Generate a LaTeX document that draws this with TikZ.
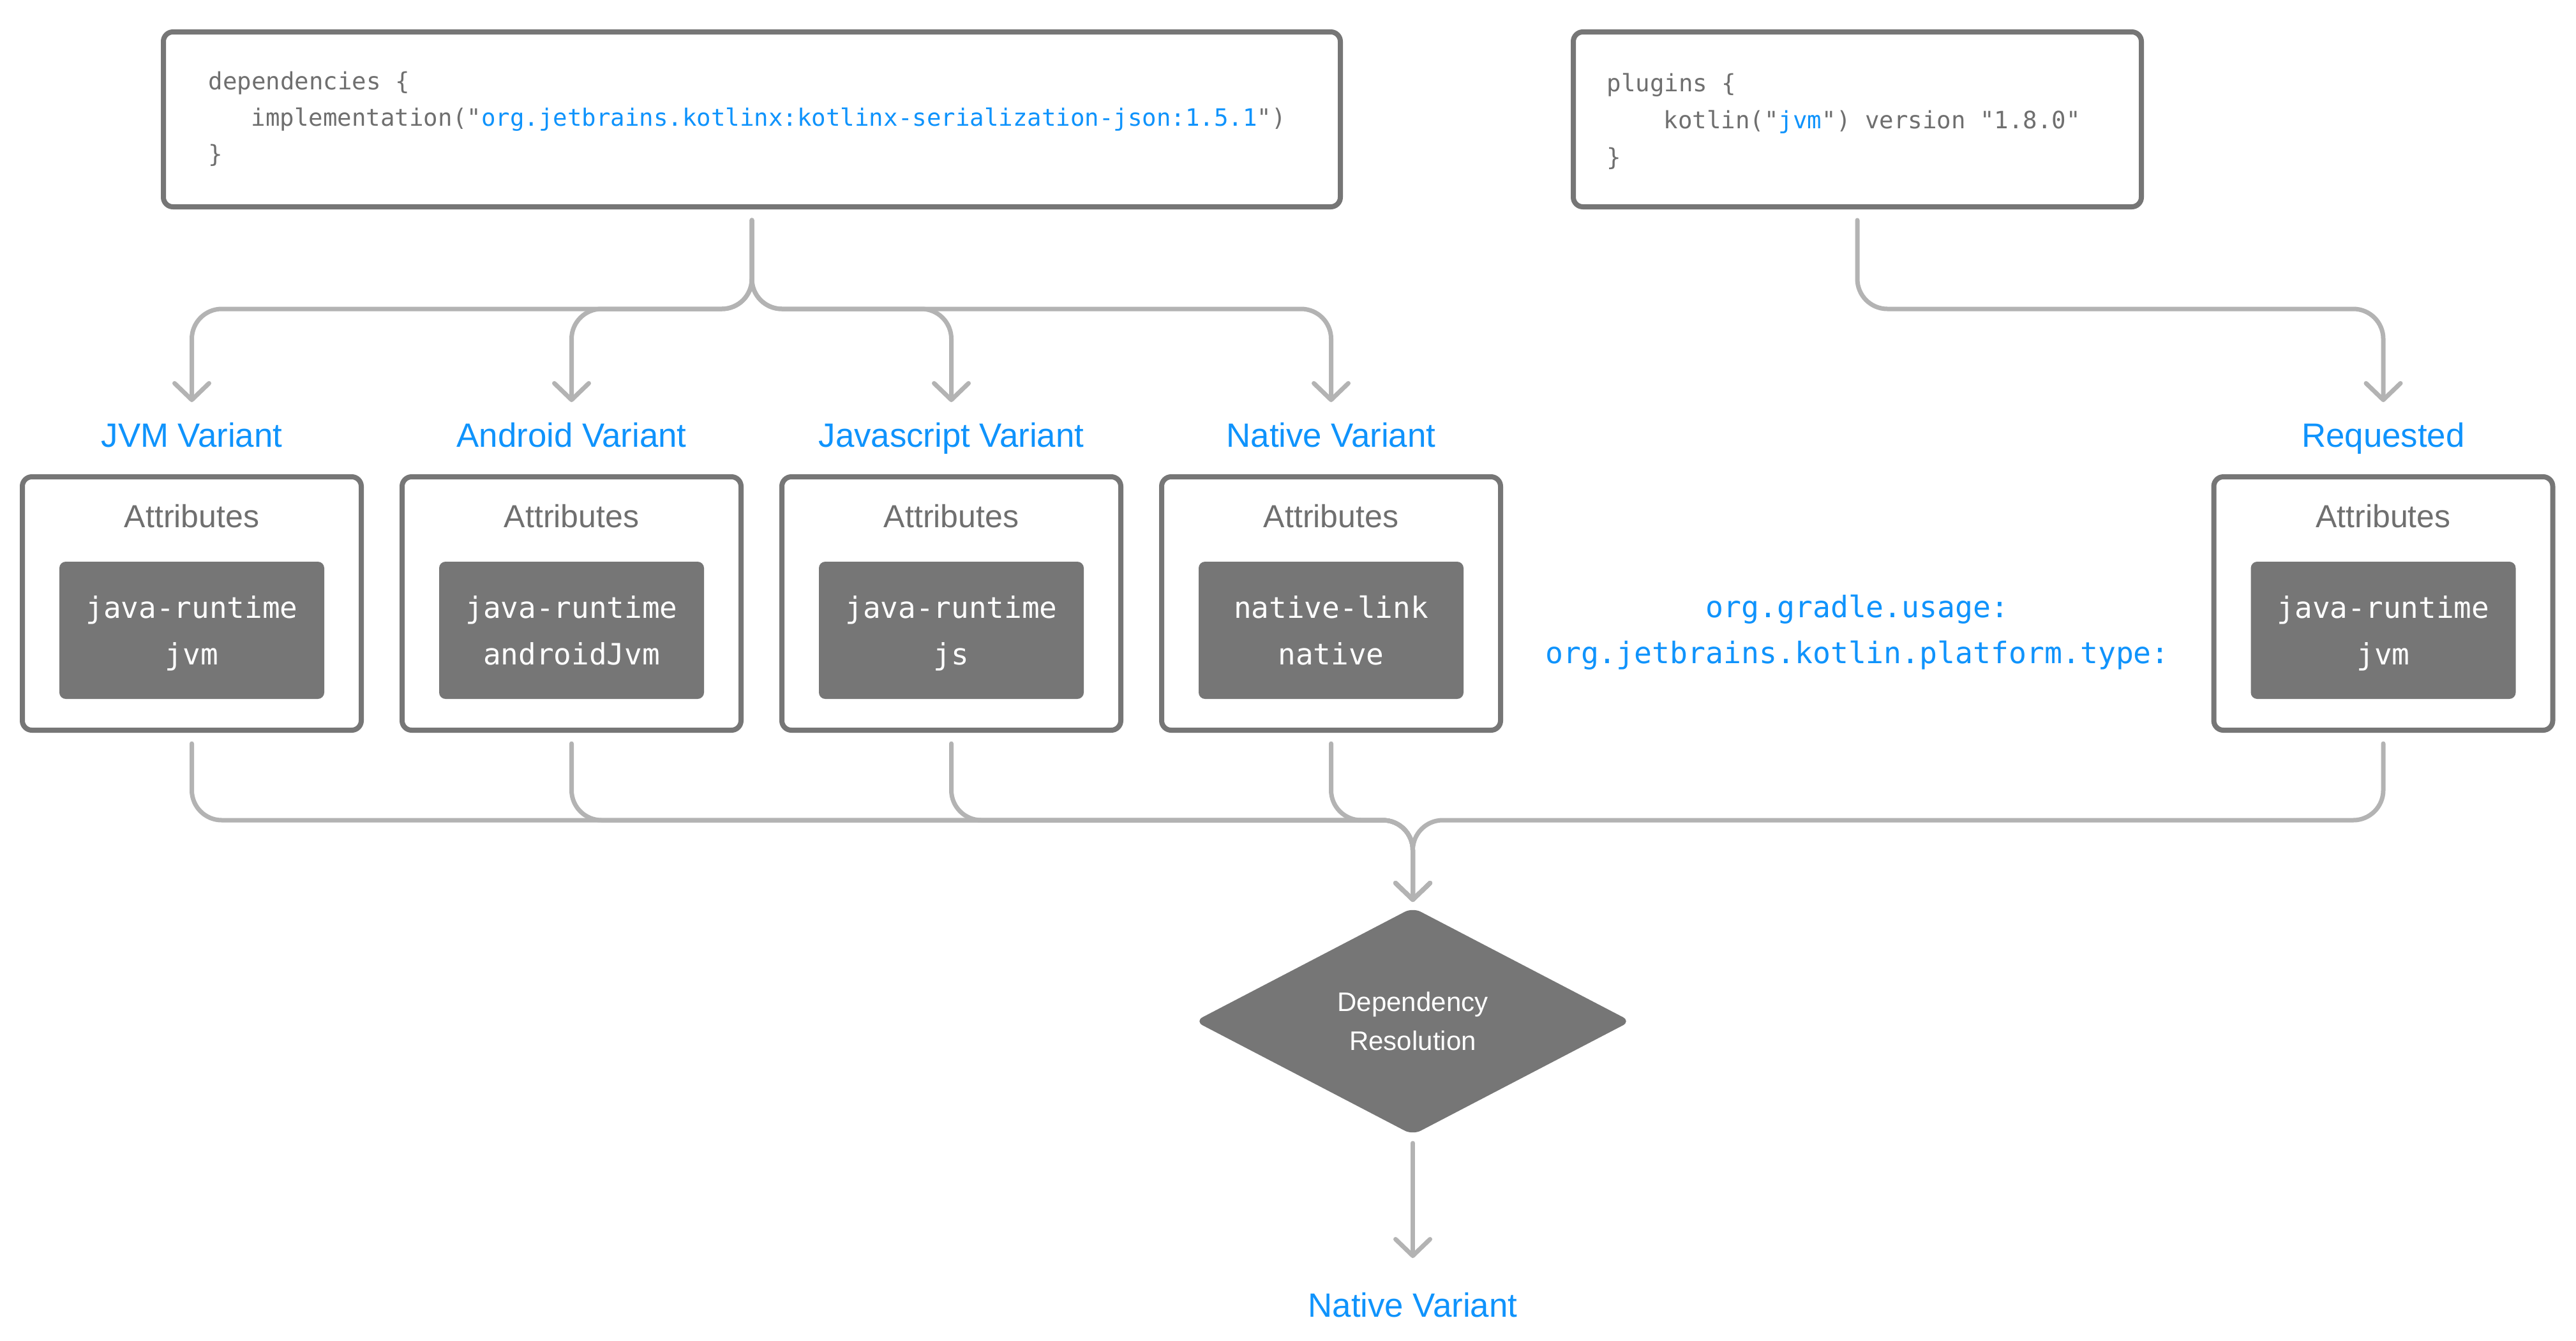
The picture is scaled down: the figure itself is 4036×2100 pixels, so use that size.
\documentclass[tikz,border=0pt]{standalone}
\usepackage{fontspec}
\setmainfont{Liberation Sans}
\newfontfamily\codefont{DejaVu Sans Mono}[Ligatures=TeXOff]
\usetikzlibrary{arrows.meta,shapes.geometric,calc}

\definecolor{boxgray}{HTML}{767676}
\definecolor{linegray}{HTML}{B3B3B3}
\definecolor{txtgray}{HTML}{6F6F6F}
\definecolor{kblue}{HTML}{0F93FC}

\tikzset{
  conn/.style={draw=linegray, line width=1.75pt, line cap=round, line join=round, rounded corners=11.75pt},
  endarrow/.style={-{Straight Barb[length=6.5pt,width=13.5pt,line cap=round,line join=round]}},
  codebox/.style={draw=boxgray, line width=2pt, rounded corners=3.75pt, minimum height=68.5pt, inner sep=0pt, outer sep=0pt, fill=white},
  codeline/.style={anchor=base west, inner sep=0pt, text=txtgray, font=\codefont\fontsize{9.35pt}{11pt}\selectfont},
  varbox/.style={draw=boxgray, line width=2pt, rounded corners=3.75pt, minimum width=132.75pt, minimum height=99.25pt, inner sep=0pt, outer sep=0pt, fill=white},
  varlabel/.style={anchor=base, inner sep=0pt, text=kblue, font=\fontsize{13.2pt}{16pt}\selectfont},
  attrtitle/.style={anchor=base, inner sep=0pt, text=txtgray, font=\fontsize{12.5pt}{15pt}\selectfont},
  valbox/.style={fill=boxgray, rounded corners=2.5pt, minimum width=103.75pt, minimum height=53.75pt, inner sep=0pt, outer sep=0pt},
  valtext/.style={anchor=base, inner sep=0pt, text=white, font=\codefont\fontsize{11.5pt}{14pt}\selectfont},
  keytext/.style={anchor=base, inner sep=0pt, text=kblue, font=\codefont\fontsize{11.6pt}{14pt}\selectfont},
  decision/.style={diamond, aspect=2, fill=boxgray, rounded corners=3.5pt, minimum width=170.75pt, minimum height=89pt, inner sep=0pt, outer sep=0pt, text=white, align=center, font=\fontsize{10.5pt}{15.25pt}\selectfont},
}

% #1 node name, #2 centre x, #3 caption, #4 and #5 attribute values
\newcommand\variantbox[5]{%
  \node[varbox] (#1) at (#2,945.5) {};
  \node[varlabel] (#1-lbl) at (#2,700) {#3};
  \node[attrtitle] (#1-ttl) at (#2,826) {Attributes};
  \node[valbox] (#1-val) at (#2,987.5) {};
  \node[valtext] (#1-v1) at (#2,968) {#4};
  \node[valtext] (#1-v2) at (#2,1041) {#5};
  \coordinate (#1-in) at ($(#1.north)+(0,-117)$);
  \coordinate (#1-out) at ($(#1.south)+(0,21)$);
}

\begin{document}
\begin{tikzpicture}[x=0.25pt,y=-0.25pt]
\fill[white] (0,0) rectangle (4036,2100);
\useasboundingbox (0,0) rectangle (4036,2100);

% build script snippets
\node[codebox, minimum width=461pt] (code1) at (1178,187) {};
\node[codeline] (code1-a) at (326,140) {dependencies \{};
\node[codeline] (code1-b) at (393,197) {implementation("\textcolor{kblue}{org.jetbrains.kotlinx:kotlinx-serialization-json:1.5.1}")};
\node[codeline] (code1-c) at (326,254) {\}};

\node[codebox, minimum width=222.5pt] (code2) at (2910,187) {};
\node[codeline] (code2-a) at (2517,143) {plugins \{};
\node[codeline] (code2-b) at (2606,201) {kotlin("\textcolor{kblue}{jvm}") version "1.8.0"};
\node[codeline] (code2-c) at (2517,259) {\}};

% variants and the requested attributes
\variantbox{jvm}{300.5}{JVM Variant}{java-runtime}{jvm}
\variantbox{android}{895.5}{Android Variant}{java-runtime}{androidJvm}
\variantbox{js}{1490.5}{Javascript Variant}{java-runtime}{js}
\variantbox{native}{2085.5}{Native Variant}{native-link}{native}
\variantbox{req}{3734}{Requested}{java-runtime}{jvm}

% attribute keys
\node[keytext] (key1) at (2910,967) {org.gradle.usage:};
\node[keytext] (key2) at (2910,1039) {org.jetbrains.kotlin.platform.type:};

% resolution step and its result
\node[decision] (dr) at (2213.5,1600) {Dependency\\Resolution};
\node[varlabel] (result) at (2213.5,2063) {Native Variant};
\coordinate (dr-in) at ($(dr.north)+(0,-9)$);

% fan-out from the build scripts
\coordinate (code1-out) at ($(code1.south)+(0,21)$);
\coordinate (code2-out) at ($(code2.south)+(0,21)$);
\foreach \v in {jvm,android,js,native}
  \draw[conn,endarrow] (code1-out) -- ++(0,139) -| (\v-in);
\draw[conn,endarrow] (code2-out) -- ++(0,139) -| (req-in);

% fan-in to the resolution
\foreach \v in {jvm,android,js,native,req}
  \draw[conn,endarrow] (\v-out) -- ++(0,120) -| (dr-in);

\draw[conn,endarrow] ($(dr.south)+(0,13)$) -- ($(result.base)+(0,-92)$);
\end{tikzpicture}
\end{document}
